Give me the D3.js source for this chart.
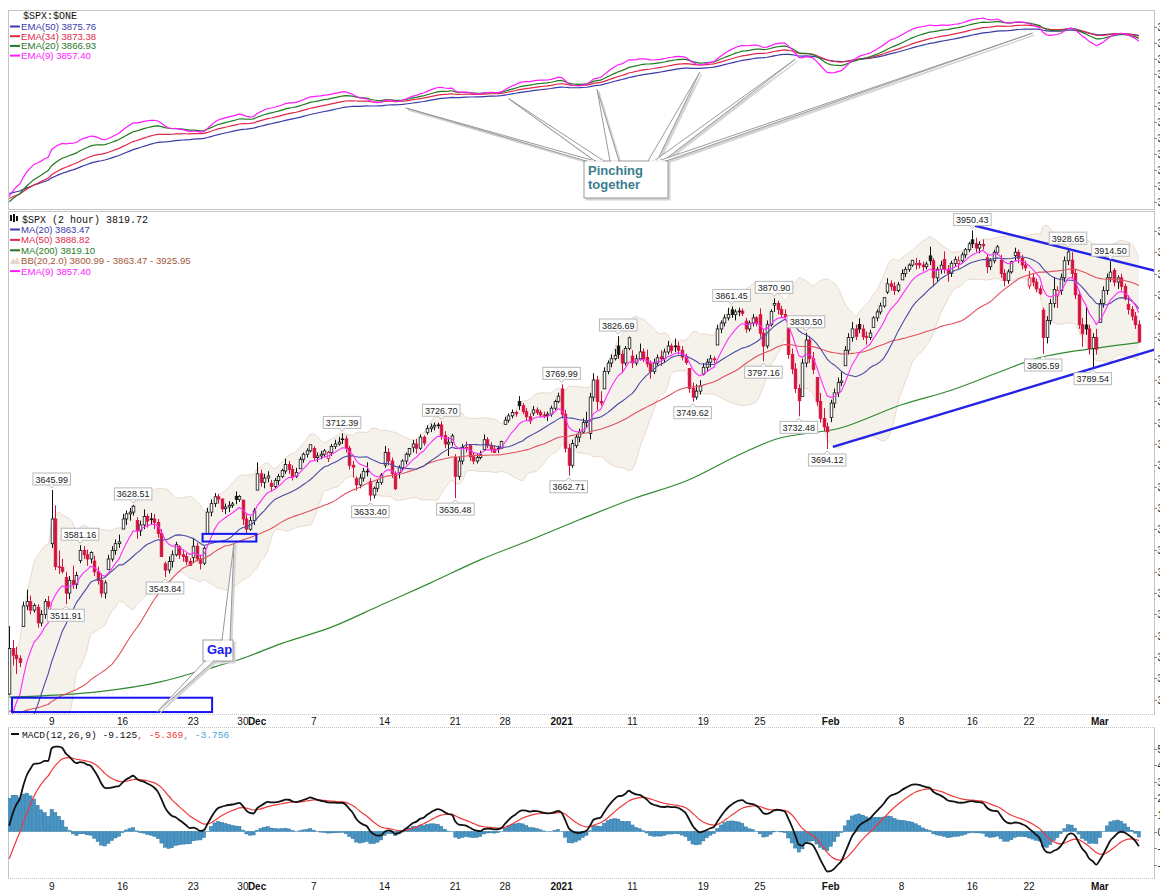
<!DOCTYPE html>
<html>
<head>
<meta charset="utf-8">
<script src="https://cdn.jsdelivr.net/npm/d3@7"></script>
<style>
body { margin: 0; background: #fff; }
svg { display: block; }
text { font-family: "Liberation Sans", Arial, sans-serif; }
.mono { font-family: "Liberation Mono", "DejaVu Sans Mono", monospace; }
</style>
</head>
<body>
<svg id="chart" width="1160" height="894"></svg>
<script>
// trading sessions shown on the chart (2 hour bars, 4 per day, 2 on half days)
var tradingDays = [
 "2020-11-04","2020-11-05","2020-11-06","2020-11-09","2020-11-10","2020-11-11","2020-11-12","2020-11-13",
 "2020-11-16","2020-11-17","2020-11-18","2020-11-19","2020-11-20","2020-11-23","2020-11-24","2020-11-25",
 "2020-11-27","2020-11-30","2020-12-01","2020-12-02","2020-12-03","2020-12-04","2020-12-07","2020-12-08",
 "2020-12-09","2020-12-10","2020-12-11","2020-12-14","2020-12-15","2020-12-16","2020-12-17","2020-12-18",
 "2020-12-21","2020-12-22","2020-12-23","2020-12-24","2020-12-28","2020-12-29","2020-12-30","2020-12-31",
 "2021-01-04","2021-01-05","2021-01-06","2021-01-07","2021-01-08","2021-01-11","2021-01-12","2021-01-13",
 "2021-01-14","2021-01-15","2021-01-19","2021-01-20","2021-01-21","2021-01-22","2021-01-25","2021-01-26",
 "2021-01-27","2021-01-28","2021-01-29","2021-02-01","2021-02-02","2021-02-03","2021-02-04","2021-02-05",
 "2021-02-08","2021-02-09","2021-02-10","2021-02-11","2021-02-12","2021-02-16","2021-02-17","2021-02-18",
 "2021-02-19","2021-02-22","2021-02-23","2021-02-24","2021-02-25","2021-02-26","2021-03-01","2021-03-02",
 "2021-03-03"
];

// [open, high, low, close] of each 2 hour bar, grouped by session
var dayBars = [
 [[3406.46,3486.25,3405.17,3460],[3460,3470,3440,3452],[3452,3462,3430,3448],[3448,3452,3438,3443.44]],
 [[3485.74,3515,3485.74,3510],[3510,3529.05,3505,3515],[3515,3522,3500,3505],[3505,3513,3502,3510.45]],
 [[3508.34,3512,3484.34,3490],[3490,3505,3486,3500],[3500,3518,3495,3515],[3515,3521.58,3505,3509.44]],
 [[3583.04,3645.99,3578,3612],[3612,3628,3552,3556],[3556,3575,3547.48,3555],[3555,3565,3548,3550.5]],
 [[3543.26,3550,3511.91,3525],[3525,3545,3518,3540],[3540,3557.22,3530,3535],[3535,3550,3530,3545.53]],
 [[3563.22,3581.16,3560,3575],[3575,3580,3565,3570],[3570,3576,3557,3565],[3565,3574,3560,3572.66]],
 [[3562.67,3569.02,3545,3550],[3550,3556,3535,3540],[3540,3548,3520,3525],[3525,3540,3518.58,3537.01]],
 [[3552.57,3570,3552.57,3565],[3565,3580,3562,3575],[3575,3588,3570,3583],[3583,3593.66,3578,3585.15]],
 [[3600.16,3618,3600.16,3612],[3612,3622,3605,3618],[3618,3625,3610,3620],[3620,3628.51,3616,3626.91]],
 [[3610.31,3614,3588.68,3598],[3598,3610,3592,3605],[3605,3623.11,3600,3615],[3615,3618,3602,3609.53]],
 [[3612.09,3619.09,3605,3612],[3612,3618,3600,3608],[3608,3612,3590,3595],[3595,3600,3567.33,3567.79]],
 [[3559.41,3562,3543.84,3552],[3552,3568,3548,3562],[3562,3575,3555,3570],[3570,3585.22,3568,3581.87]],
 [[3579.31,3581.23,3565,3570],[3570,3576,3562,3568],[3568,3572,3558,3562],[3562,3566,3556.85,3557.54]],
 [[3566.82,3589.81,3560,3580],[3580,3584,3562,3565],[3565,3570,3552.77,3560],[3560,3580,3558,3577.59]],
 [[3594.52,3625,3594.52,3620],[3620,3635,3615,3630],[3630,3642.31,3626,3638],[3638,3641,3630,3635.41]],
 [[3635.5,3635.5,3620,3624],[3624,3630,3617.76,3626],[3626,3633,3620,3628],[3628,3632,3625,3629.65]],
 [[3638.55,3644.31,3629.33,3635],[3635,3640,3632,3638.35]],
 [[3634.18,3634.18,3605,3612],[3612,3618,3594.39,3600],[3600,3615,3598,3610],[3610,3625,3605,3621.63]],
 [[3645.87,3678.45,3645.87,3665],[3665,3670,3650,3655],[3655,3665,3648,3660],[3660,3668,3655,3662.45]],
 [[3653.78,3658,3644.84,3650],[3650,3660,3648,3657],[3657,3665,3652,3662],[3662,3670.96,3660,3669.01]],
 [[3668.28,3682.73,3665,3676],[3676,3680,3665,3670],[3670,3675,3657.17,3662],[3662,3672,3660,3666.72]],
 [[3670.94,3685,3670.94,3682],[3682,3690,3678,3688],[3688,3695,3684,3692],[3692,3699.2,3690,3699.12]],
 [[3694.73,3697.41,3680,3684],[3684,3690,3678.88,3686],[3686,3692,3682,3688],[3688,3694,3685,3691.96]],
 [[3683.05,3692,3678.83,3690],[3690,3700,3686,3697],[3697,3705,3694,3700],[3700,3708.45,3698,3702.25]],
 [[3705.98,3712.39,3700,3706],[3706,3710,3690,3695],[3695,3698,3670,3675],[3675,3680,3660.54,3672.82]],
 [[3659.13,3662,3645.18,3652],[3652,3665,3648,3660],[3660,3672,3656,3668],[3668,3678.49,3662,3668.1]],
 [[3656.08,3660,3633.4,3640],[3640,3650,3636,3648],[3648,3658,3644,3655],[3655,3665.91,3652,3663.46]],
 [[3675.27,3697.61,3672,3690],[3690,3695,3675,3680],[3680,3684,3660,3665],[3665,3668,3645.84,3647.49]],
 [[3666.41,3675,3659.62,3672],[3672,3682,3668,3680],[3680,3690,3676,3688],[3688,3695.29,3685,3694.62]],
 [[3696.25,3705,3690,3700],[3700,3706,3688.57,3695],[3695,3711.27,3693,3708],[3708,3710,3698,3701.17]],
 [[3713.65,3722,3710.87,3718],[3718,3724,3714,3720],[3720,3725.12,3716,3722],[3722,3725,3718,3722.48]],
 [[3722.39,3726.7,3705,3710],[3710,3715,3695,3700],[3700,3708,3685.84,3702],[3702,3712,3698,3709.41]],
 [[3684.28,3688,3636.48,3662],[3662,3685,3658,3680],[3680,3700,3676,3696],[3696,3702.9,3690,3694.92]],
 [[3698.08,3698.26,3680,3685],[3685,3690,3676.16,3680],[3680,3688,3677,3684],[3684,3692,3682,3687.26]],
 [[3693.42,3711.24,3692,3705],[3705,3708,3695,3698],[3698,3702,3690,3694],[3694,3698,3689.28,3690.01]],
 [[3694.03,3698,3689.32,3695],[3695,3703.82,3694,3703.06]],
 [[3723.03,3732,3723.03,3728],[3728,3736,3725,3733],[3733,3740.51,3730,3737],[3737,3739,3732,3735.36]],
 [[3750.01,3756.12,3740,3745],[3745,3748,3735,3738],[3738,3742,3728,3732],[3732,3736,3723.31,3727.04]],
 [[3736.19,3744.63,3733,3740],[3740,3743,3734,3737],[3737,3740,3731,3734],[3734,3738,3730.21,3732.04]],
 [[3733.27,3738,3726.88,3735],[3735,3745,3732,3742],[3742,3752,3740,3750],[3750,3760.2,3748,3756.07]],
 [[3764.61,3769.99,3730,3735],[3735,3740,3690,3695],[3695,3700,3662.71,3675],[3675,3705,3672,3700.65]],
 [[3698.02,3712,3695.07,3708],[3708,3718,3702,3714],[3714,3730,3712,3725],[3725,3737.83,3720,3726.86]],
 [[3712.2,3760,3705.34,3755],[3755,3783.04,3750,3775],[3775,3780,3740,3750],[3750,3762,3745,3748.14]],
 [[3764.71,3790,3764.71,3785],[3785,3798,3782,3795],[3795,3805,3790,3800],[3800,3811.55,3798,3803.79]],
 [[3815.05,3826.69,3800,3805],[3805,3810,3783.6,3795],[3795,3815,3792,3812],[3812,3826,3810,3824.68]],
 [[3803.14,3810,3789.02,3795],[3795,3805,3792,3800],[3800,3817.86,3798,3808],[3808,3812,3796,3799.61]],
 [[3801.62,3810.78,3790,3794],[3794,3798,3776.51,3785],[3785,3800,3782,3795],[3795,3805,3792,3801.19]],
 [[3802.23,3810,3791.5,3800],[3800,3812,3796,3808],[3808,3820.96,3805,3815],[3815,3818,3806,3809.84]],
 [[3814.98,3823.6,3808,3815],[3815,3820,3805,3810],[3810,3815,3798,3802],[3802,3806,3792.86,3795.54]],
 [[3788.73,3788.73,3760,3765],[3765,3772,3749.62,3755],[3755,3770,3752,3762],[3762,3775,3758,3768.25]],
 [[3781.88,3795,3780.37,3790],[3790,3800,3785,3796],[3796,3804.53,3790,3800],[3800,3803,3795,3798.91]],
 [[3816.22,3840,3816.22,3835],[3835,3845,3830,3842],[3842,3852,3838,3848],[3848,3859.75,3845,3851.85]],
 [[3857.46,3861.45,3848,3852],[3852,3858,3845.05,3855],[3855,3860,3850,3856],[3856,3859,3850,3853.07]],
 [[3844.24,3848,3830.41,3835],[3835,3845,3832,3842],[3842,3852.31,3838,3848],[3848,3850,3838,3841.47]],
 [[3851.68,3859.23,3825,3830],[3830,3835,3797.16,3815],[3815,3845,3812,3840],[3840,3858,3838,3855.36]],
 [[3862.96,3870.9,3855,3865],[3865,3868,3852,3858],[3858,3862,3847.78,3852],[3852,3858,3848,3849.62]],
 [[3836.83,3836.83,3800,3805],[3805,3812,3782,3788],[3788,3795,3760,3765],[3765,3770,3732.48,3750.77]],
 [[3755.75,3800,3755.75,3795],[3795,3830.5,3790,3822],[3822,3826,3795,3800],[3800,3808,3782,3787.38]],
 [[3778.05,3778.05,3745,3750],[3750,3760,3725,3730],[3730,3742,3715,3720],[3720,3725,3694.12,3714.24]],
 [[3731.17,3752,3725.62,3748],[3748,3765,3742,3760],[3760,3778,3755,3772],[3772,3784.32,3768,3773.86]],
 [[3791.84,3815,3791.84,3810],[3810,3830,3805,3825],[3825,3843.09,3820,3835],[3835,3840,3822,3826.31]],
 [[3840.27,3847.51,3830,3835],[3835,3840,3822,3826],[3826,3832,3816.68,3825],[3825,3834,3822,3830.17]],
 [[3836.66,3850,3836.66,3848],[3848,3858,3844,3855],[3855,3866,3852,3862],[3862,3872.42,3860,3871.74]],
 [[3878.3,3894.56,3876,3888],[3888,3892,3880,3885],[3885,3890,3874.93,3880],[3880,3890,3878,3886.83]],
 [[3892.59,3905,3892.59,3900],[3900,3908,3896,3905],[3905,3912,3902,3910],[3910,3915.77,3908,3915.59]],
 [[3910.49,3918.35,3905,3912],[3912,3916,3906,3910],[3910,3914,3902.64,3908],[3908,3914,3905,3911.23]],
 [[3920.78,3931.5,3910,3915],[3915,3918,3884.94,3895],[3895,3908,3890,3905],[3905,3915,3900,3909.88]],
 [[3916.4,3925.99,3900,3905],[3905,3910,3890.39,3900],[3900,3915,3896,3912],[3912,3920,3908,3916.38]],
 [[3911.65,3920,3905.78,3915],[3915,3925,3912,3922],[3922,3930,3918,3928],[3928,3937.23,3925,3934.83]],
 [[3939.61,3950.43,3930,3935],[3935,3942,3925,3930],[3930,3938,3923.85,3934],[3934,3940,3928,3932.59]],
 [[3918.5,3922,3900.43,3908],[3908,3918,3904,3915],[3915,3928,3912,3925],[3925,3933.61,3922,3931.33]],
 [[3915.86,3921.98,3895,3900],[3900,3905,3885.03,3892],[3892,3905,3888,3902],[3902,3915,3900,3913.97]],
 [[3921.16,3930.41,3915,3925],[3925,3928,3912,3918],[3918,3922,3905,3910],[3910,3915,3903.07,3906.71]],
 [[3885.55,3902.92,3882,3895],[3895,3900,3885,3890],[3890,3894,3878,3882],[3882,3886,3874.71,3876.5]],
 [[3857.07,3860,3805.59,3825],[3825,3850,3818,3845],[3845,3870,3840,3865],[3865,3895.98,3860,3881.37]],
 [[3873.71,3885,3859.6,3880],[3880,3900,3875,3895],[3895,3920,3890,3915],[3915,3928.65,3910,3925.43]],
 [[3915.8,3925.02,3895,3900],[3900,3905,3870,3875],[3875,3880,3835,3840],[3840,3848,3814.04,3829.34]],
 [[3839.66,3861.08,3828,3835],[3835,3840,3805,3812],[3812,3830,3789.54,3825],[3825,3835,3805,3811.15]],
 [[3842.51,3870,3842.51,3865],[3865,3885,3860,3880],[3880,3900,3875,3895],[3895,3914.5,3890,3901.82]],
 [[3903.64,3906.41,3885,3890],[3890,3898,3882,3895],[3895,3900,3880,3885],[3885,3888,3868.57,3870.29]],
 [[3863.99,3874.47,3852,3858],[3858,3862,3845,3850],[3850,3855,3835,3840],[3840,3845,3818.86,3819.72]]
];

// closes of the bars before the first visible one (Oct 15 - Nov 3), used to start the averages
var warmupCloses = [
 3460,3470,3475,3483, 3505,3500,3490,3484, 3485,3470,3445,3427, 3455,3465,3450,3443,
 3440,3445,3440,3436, 3420,3440,3450,3453, 3450,3455,3460,3465, 3410,3380,3395,3401,
 3395,3400,3395,3391, 3320,3300,3285,3271, 3300,3320,3315,3310, 3270,3250,3265,3270,
 3325,3320,3315,3310, 3360,3370,3375,3369
];

// MA(200): bar number and value
var ma200Bars = [0, 25, 43, 55, 65, 77, 91, 105, 119, 133, 147, 161, 175, 192, 206, 216, 235, 252, 266, 280, 289, 308, 319];
var ma200Vals = [3403, 3409, 3421, 3435, 3447, 3466, 3485, 3511, 3537, 3564, 3587, 3611, 3634, 3658, 3687, 3705, 3719, 3746, 3763, 3785, 3799, 3813, 3819];

var xTicks = [
 ["2020-11-09","9",0],["2020-11-16","16",0],["2020-11-23","23",0],["2020-11-30","30",0],["2020-12-01","Dec",1],
 ["2020-12-07","7",0],["2020-12-14","14",0],["2020-12-21","21",0],["2020-12-28","28",0],["2021-01-04","2021",1],
 ["2021-01-11","11",0],["2021-01-19","19",0],["2021-01-25","25",0],["2021-02-01","Feb",1],["2021-02-08","8",0],
 ["2021-02-16","16",0],["2021-02-22","22",0],["2021-03-01","Mar",1]
];

var highLabels = [3645.99, 3628.51, 3581.16, 3712.39, 3726.70, 3769.99, 3826.69, 3861.45, 3870.90, 3830.50, 3950.43, 3928.65, 3914.50];
var lowLabels = [3511.91, 3543.84, 3633.40, 3636.48, 3662.71, 3749.62, 3797.16, 3732.48, 3694.12, 3805.59, 3789.54];

// annotations in bar / price units
var trendLines = [[[270.8, 3958.2], [325, 3901.9]], [[232.6, 3696.5], [325, 3812.7]]];
var gapBoxes = [[0.8, 57.3, 3385.4, 3402.2], [54.6, 69.8, 3585.5, 3594.5]];
var pinchBars = [112, 141, 166, 195, 222, 289];

var topLegend = [["#3a3aa8", "EMA(50) 3875.76"], ["#e0284a", "EMA(34) 3873.38"], ["#1f7a1f", "EMA(20) 3866.93"], ["#ff19ff", "EMA(9) 3857.40"]];
var mainLegend = [["#3a3aa8", "MA(20) 3863.47"], ["#e0284a", "MA(50) 3888.82"], ["#1f7a1f", "MA(200) 3819.10"], ["#a0583a", "BB(20,2.0) 3800.99 - 3863.47 - 3925.95"], ["#ff19ff", "EMA(9) 3857.40"]];

// ---- build series ----
var bars = [];
dayBars.forEach(function(day, di) {
  day.forEach(function(b, k) {
    bars.push({o: b[0], h: b[1], l: b[2], c: b[3], date: tradingDays[di], k: k});
  });
});
bars.forEach(function(d, i) { d.i = i; });
var W = warmupCloses.length;
var closes = warmupCloses.concat(bars.map(function(d) { return d.c; }));

function emaOf(arr, n) {
  var k = 2 / (n + 1), e = arr[0], out = [];
  arr.forEach(function(v, i) { e = i === 0 ? v : v * k + e * (1 - k); out.push(e); });
  return out;
}
function smaAt(n, i) {
  var s = 0;
  for (var j = i - n + 1; j <= i; j++) s += closes[j];
  return s / n;
}
var ema9 = emaOf(closes, 9).slice(W), ema20 = emaOf(closes, 20).slice(W),
    ema34 = emaOf(closes, 34).slice(W), ema50 = emaOf(closes, 50).slice(W);
bars.forEach(function(d, i) {
  var a = W + i;
  d.ma20 = smaAt(20, a);
  d.ma50 = smaAt(50, a);
  var sd = 0;
  for (var j = a - 19; j <= a; j++) sd += (closes[j] - d.ma20) * (closes[j] - d.ma20);
  sd = Math.sqrt(sd / 20);
  d.bbU = d.ma20 + 2 * sd;
  d.bbL = d.ma20 - 2 * sd;
  d.e9 = ema9[i]; d.e20 = ema20[i]; d.e34 = ema34[i]; d.e50 = ema50[i];
});
var e12 = emaOf(closes, 12), e26 = emaOf(closes, 26);
var macdAll = e12.map(function(v, i) { return v - e26[i]; });
var sigAll = emaOf(macdAll, 9);
bars.forEach(function(d, i) {
  d.macd = macdAll[W + i];
  d.sig = sigAll[W + i];
  d.hist = d.macd - d.sig;
});

// ---- scales ----
var L = 8, R = 1154;
var x = d3.scaleLinear().domain([0, 319]).range([9.2, 1138.8]);
var yTop = d3.scaleLinear().domain([3350, 3900]).range([201.7, 26.7]);
var yMain = d3.scaleLinear().domain([3645.99, 3950.43]).range([490, 230.6]);
var yMacd = d3.scaleLinear().domain([0, -10]).range([831.5, 848.1]);

var panels = {top: [10, 209], main: [211, 714], macd: [727, 878]};

var svg = d3.select("#chart");
var defs = svg.append("defs");
Object.keys(panels).forEach(function(k) {
  defs.append("clipPath").attr("id", "clip-" + k).append("rect")
    .attr("x", L).attr("y", panels[k][0]).attr("width", R - L).attr("height", panels[k][1] - panels[k][0]);
});

function frame(top, bottom, dottedTop, dottedBottom) {
  var g = svg.append("g").attr("stroke", "#c4c4c4").attr("fill", "none");
  g.append("line").attr("x1", L + 0.5).attr("x2", L + 0.5).attr("y1", top).attr("y2", bottom);
  g.append("line").attr("x1", R + 0.5).attr("x2", R + 0.5).attr("y1", top).attr("y2", bottom);
  g.append("line").attr("x1", L).attr("x2", R + 1).attr("y1", top + 0.5).attr("y2", top + 0.5)
    .attr("stroke-dasharray", dottedTop ? "1,1" : null);
  g.append("line").attr("x1", L).attr("x2", R + 1).attr("y1", bottom + 0.5).attr("y2", bottom + 0.5)
    .attr("stroke-dasharray", dottedBottom ? "1,1" : null);
}

// price axis on the right: the window cuts it, as in the original, so only the ticks and
// the first sliver of each label remain visible
function rightTicks(scale, values) {
  var g = svg.append("g");
  values.forEach(function(v) {
    var yy = Math.round(scale(v)) + 0.5;
    g.append("line").attr("x1", R).attr("x2", R + 3).attr("y1", yy).attr("y2", yy).attr("stroke", "#888");
    g.append("text").attr("x", R + 3.5).attr("y", yy + 3.5).attr("font-size", 10).attr("fill", "#222").text(v);
  });
}

function legend(items, x0, y0, step) {
  var g = svg.append("g");
  items.forEach(function(it, i) {
    var yy = y0 + i * step;
    g.append("line").attr("x1", x0).attr("x2", x0 + 10).attr("y1", yy).attr("y2", yy)
      .attr("stroke", it[0]).attr("stroke-width", 2);
    g.append("text").attr("x", x0 + 11).attr("y", yy + 3.5).attr("font-size", 9.6).attr("fill", it[0]).text(it[1]);
  });
  return g;
}

// ================= TOP PANEL =================
frame(panels.top[0], panels.top[1], false, false);
rightTicks(yTop, d3.range(3350, 3950, 50));
var gTop = svg.append("g").attr("clip-path", "url(#clip-top)");
[["e50", "#3a3aa8"], ["e34", "#e0284a"], ["e20", "#1f7a1f"], ["e9", "#ff19ff"]].forEach(function(s) {
  gTop.append("path").datum(bars)
    .attr("d", d3.line().x(function(d) { return x(d.i); }).y(function(d) { return yTop(d[s[0]]); }))
    .attr("fill", "none").attr("stroke", s[1]).attr("stroke-width", 1.2);
});
svg.append("text").attr("class", "mono").attr("x", 23).attr("y", 18.5).attr("font-size", 10).attr("fill", "#111").text("$SPX:$ONE");
legend(topLegend, 10, 26.5, 9.7);

// ================= MAIN PANEL =================
frame(panels.main[0], panels.main[1], false, true);
rightTicks(yMain, d3.range(3400, 3975, 25));
var gMain = svg.append("g").attr("clip-path", "url(#clip-main)");

gMain.append("path").datum(bars)
  .attr("d", d3.area().x(function(d) { return x(d.i); })
    .y0(function(d) { return yMain(d.bbL); }).y1(function(d) { return yMain(d.bbU); }).curve(d3.curveMonotoneX))
  .attr("fill", "#f5f2ec");
["bbU", "bbL"].forEach(function(k) {
  gMain.append("path").datum(bars)
    .attr("d", d3.line().x(function(d) { return x(d.i); }).y(function(d) { return yMain(d[k]); }).curve(d3.curveMonotoneX))
    .attr("fill", "none").attr("stroke", "#ead8cd").attr("stroke-width", 1);
});

// MA(200) from the values
gMain.append("path").datum(d3.zip(ma200Bars, ma200Vals))
  .attr("d", d3.line().x(function(d) { return x(d[0]); }).y(function(d) { return yMain(d[1]); }).curve(d3.curveMonotoneX))
  .attr("fill", "none").attr("stroke", "#2f8a2f").attr("stroke-width", 1.2);

// candles: hollow when close > open, red when close < previous close
var cw = 2.6;
var candles = gMain.append("g").selectAll("g").data(bars).enter().append("g");
candles.each(function(d, i) {
  var prev = i === 0 ? warmupCloses[W - 1] : bars[i - 1].c;
  var col = d.c < prev ? "#d4103c" : "#111";
  var filled = d.c < d.o;
  var g = d3.select(this);
  var cx = Math.round(x(d.i)) + 0.5;
  var top = yMain(Math.max(d.o, d.c)), bot = yMain(Math.min(d.o, d.c));
  g.append("line").attr("x1", cx).attr("x2", cx).attr("y1", yMain(d.h)).attr("y2", top).attr("stroke", col);
  g.append("line").attr("x1", cx).attr("x2", cx).attr("y1", bot).attr("y2", yMain(d.l)).attr("stroke", col);
  g.append("rect").attr("x", cx - cw / 2).attr("y", top).attr("width", cw).attr("height", Math.max(bot - top, 0.8))
    .attr("fill", filled ? col : "#fff").attr("stroke", col).attr("stroke-width", 0.8);
});

[["ma50", "#e0505e"], ["ma20", "#4a4aa4"], ["e9", "#ff2cff"]].forEach(function(s) {
  gMain.append("path").datum(bars)
    .attr("d", d3.line().x(function(d) { return x(d.i); }).y(function(d) { return yMain(d[s[0]]); }))
    .attr("fill", "none").attr("stroke", s[1]).attr("stroke-width", 1.1);
});

// trend lines and gap boxes
trendLines.forEach(function(t) {
  gMain.append("line").attr("x1", x(t[0][0])).attr("y1", yMain(t[0][1])).attr("x2", x(t[1][0])).attr("y2", yMain(t[1][1]))
    .attr("stroke", "#2424e6").attr("stroke-width", 2.4);
});
gapBoxes.forEach(function(b) {
  gMain.append("rect").attr("x", x(b[0])).attr("y", yMain(b[3])).attr("width", x(b[1]) - x(b[0]))
    .attr("height", yMain(b[2]) - yMain(b[3])).attr("fill", "none").attr("stroke", "#1515f0").attr("stroke-width", 2);
});

// price labels on swing highs and lows
function priceLabel(v, isHigh) {
  var b = bars.filter(function(d) { return Math.abs((isHigh ? d.h : d.l) - v) < 0.005; })[0];
  if (!b) return;
  var cx = x(b.i), py = yMain(isHigh ? b.h : b.l);
  var g = svg.append("g");
  var t = g.append("text").attr("font-size", 9).attr("text-anchor", "middle").attr("fill", "#222").text(v.toFixed(2));
  var w = t.node().getComputedTextLength() + 5, h = 12;
  var by = isHigh ? py - 5 - h : py + 5;
  g.insert("rect", "text").attr("x", cx - w / 2).attr("y", by).attr("width", w).attr("height", h)
    .attr("fill", "#fff").attr("stroke", "#b8b8b8");
  var tipY = isHigh ? by + h : by;
  g.append("path").attr("d", "M" + (cx - 3) + "," + tipY + "L" + cx + "," + (isHigh ? tipY + 3 : tipY - 3) + "L" + (cx + 3) + "," + tipY)
    .attr("fill", "#fff").attr("stroke", "#b8b8b8");
  t.attr("x", cx).attr("y", by + 9.5);
}
highLabels.forEach(function(v) { priceLabel(v, true); });
lowLabels.forEach(function(v) { priceLabel(v, false); });

// legend
var titleG = svg.append("g");
titleG.append("rect").attr("x", 10).attr("y", 215).attr("width", 2).attr("height", 6).attr("fill", "#111");
titleG.append("rect").attr("x", 13).attr("y", 214).attr("width", 2).attr("height", 8).attr("fill", "#111");
titleG.append("rect").attr("x", 16).attr("y", 216).attr("width", 2).attr("height", 5).attr("fill", "#111");
svg.append("text").attr("class", "mono").attr("x", 22).attr("y", 222.5).attr("font-size", 10).attr("fill", "#111")
  .text("$SPX (2 hour) 3819.72");
var lg = legend(mainLegend, 10, 229.5, 10.4);
lg.selectAll("line").filter(function(d, i) { return i === 3; }).remove();
svg.append("path").attr("d", "M10,264 L13,258 L15,261 L17,257 L20,264 Z").attr("fill", "#e3d6cc");

// ================= X AXES =================
function xAxis(yBase) {
  var g = svg.append("g");
  xTicks.forEach(function(t) {
    var b = bars.filter(function(d) { return d.date === t[0] && d.k === 0; })[0];
    g.append("text").attr("x", x(b.i)).attr("y", yBase).attr("text-anchor", "middle")
      .attr("font-size", 10).attr("font-weight", t[2] ? "bold" : "normal").attr("fill", "#111").text(t[1]);
  });
}
xAxis(724.5);
xAxis(890);

// ================= MACD PANEL =================
frame(panels.macd[0], panels.macd[1], true, true);
rightTicks(yMacd, d3.range(-20, 60, 10));
var gMacd = svg.append("g").attr("clip-path", "url(#clip-macd)");
gMacd.selectAll("rect").data(bars).enter().append("rect")
  .attr("x", function(d) { return x(d.i) - 1.6; })
  .attr("width", 3.2)
  .attr("y", function(d) { return Math.min(yMacd(d.hist), yMacd(0)); })
  .attr("height", function(d) { return Math.abs(yMacd(d.hist) - yMacd(0)); })
  .attr("fill", "#4796c6").attr("stroke", "#2a6f9c").attr("stroke-width", 0.5);
gMacd.append("path").datum(bars)
  .attr("d", d3.line().x(function(d) { return x(d.i); }).y(function(d) { return yMacd(d.sig); }).curve(d3.curveMonotoneX))
  .attr("fill", "none").attr("stroke", "#f03a3a").attr("stroke-width", 1.2);
gMacd.append("path").datum(bars)
  .attr("d", d3.line().x(function(d) { return x(d.i); }).y(function(d) { return yMacd(d.macd); }).curve(d3.curveMonotoneX))
  .attr("fill", "none").attr("stroke", "#111").attr("stroke-width", 1.8);
var ml = svg.append("g");
ml.append("line").attr("x1", 11).attr("x2", 19).attr("y1", 734).attr("y2", 734).attr("stroke", "#111").attr("stroke-width", 2);
var mt = ml.append("text").attr("class", "mono").attr("x", 22).attr("y", 737.5).attr("font-size", 9.6);
mt.append("tspan").attr("fill", "#111").text("MACD(12,26,9) -9.125");
mt.append("tspan").attr("fill", "#f03a3a").text(", -5.369");
mt.append("tspan").attr("fill", "#4aa3d8").text(", -3.756");

// ================= CALLOUTS =================
function callout(box, pointers, label, color) {
  var g = svg.append("g");
  var sh = g.append("g").attr("transform", "translate(2,2)").attr("fill", "#d4d4d4").attr("stroke", "#d4d4d4");
  var fg = g.append("g");
  pointers.forEach(function(p) {
    var pts = [[p.b0, p.by], [p.tx, p.ty], [p.b1, p.by]];
    sh.append("path").attr("d", "M" + pts.join("L") + "Z");
    fg.append("path").attr("d", "M" + pts.join("L") + "Z").attr("fill", "#fff").attr("stroke", "#9a9a9a");
  });
  sh.append("rect").attr("x", box[0]).attr("y", box[1]).attr("width", box[2]).attr("height", box[3]);
  fg.append("rect").attr("x", box[0]).attr("y", box[1]).attr("width", box[2]).attr("height", box[3])
    .attr("fill", "#fff").attr("stroke", "#9a9a9a");
  pointers.forEach(function(p) {
    fg.append("line").attr("x1", p.b0 + 1).attr("x2", p.b1 - 1).attr("y1", p.by).attr("y2", p.by)
      .attr("stroke", "#fff").attr("stroke-width", 1.5);
  });
  label.forEach(function(s, i) {
    fg.append("text").attr("x", box[0] + 4).attr("y", box[1] + 14 + i * 14).attr("font-size", 13)
      .attr("font-weight", "bold").attr("fill", color).text(s);
  });
}

var pinchBox = [584, 161, 84, 37];
var pinchBases = [[586, 595], [595, 604], [610, 619], [648, 657], [654, 663], [658, 666]];
callout(pinchBox, pinchBars.map(function(bi, i) {
  var d = bars[bi];
  var lo = Math.max(yTop(d.e9), yTop(d.e20), yTop(d.e34), yTop(d.e50));
  return {b0: pinchBases[i][0], b1: pinchBases[i][1], by: pinchBox[1], tx: x(bi), ty: lo + 4};
}), ["Pinching", "together"], "#3b7d8e");

var gapBox = [203, 640, 30, 21];
callout(gapBox, [
  {b0: 222, b1: 230, by: 640, tx: x(63.5), ty: yMain(gapBoxes[1][2]) + 1},
  {b0: 205, b1: 214, by: 661, tx: x(41.7), ty: yMain(gapBoxes[0][2])}
], ["Gap"], "#1a1aee");
</script>
</body>
</html>
